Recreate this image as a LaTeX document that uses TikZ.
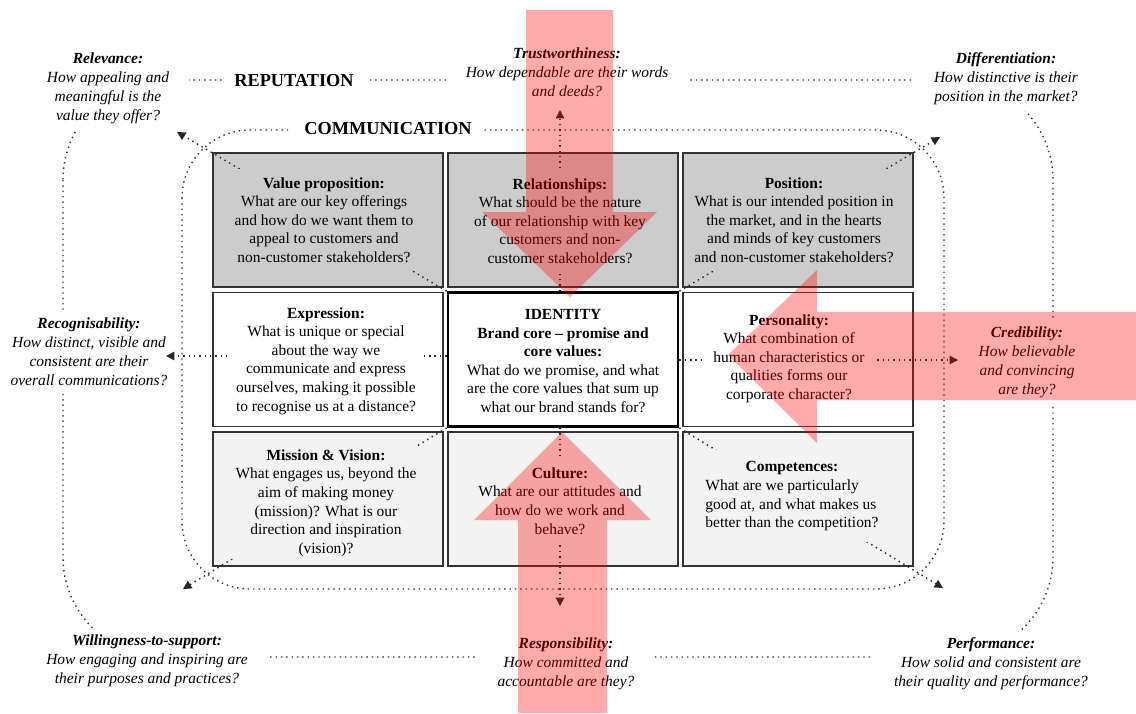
\documentclass[tikz,border=0pt]{standalone}
\usepackage{fontspec}
\setmainfont{Liberation Serif}
\usetikzlibrary{arrows.meta}
\definecolor{rowA}{HTML}{CCCCCC}
\definecolor{rowC}{HTML}{F3F3F3}

\begin{document}
\begin{tikzpicture}[x=0.025cm, y=-0.025cm,
		ring/.style={black!80, line width=1pt, dash pattern=on 1pt off 2.8pt},
		ray/.style={black!85, line width=1pt, dash pattern=on 1pt off 2.8pt, -{Triangle[length=6pt,width=6pt]}},
		cell/.style={draw=black!80, line width=0.9pt, minimum width=5.75cm, minimum height=3.35cm, inner sep=0pt},
		celltext/.style={align=center, inner sep=6pt, font=\fontsize{11}{13.2}\selectfont},
		outlabel/.style={align=center, fill=white, inner xsep=14pt, inner ysep=4pt, font=\fontsize{11}{13.5}\selectfont\itshape},
		ringname/.style={fill=white, inner xsep=9pt, inner ysep=2pt, font=\fontsize{13}{15}\selectfont\bfseries},
		bigarrow/.style={fill=red, opacity=0.33}]
		\useasboundingbox (0,0) rectangle (1136,713);
		
		% reputation ring and its questions
		\draw[ring, rounded corners=2.5cm] (63,80) rectangle (1053,657);
		\node[outlabel] (relevance) at (108,88) {\textbf{Relevance:}\\How appealing and\\meaningful is the\\value they offer?};
		\node[outlabel] (trust) at (567,72) {\textbf{Trustworthiness:}\\How dependable are their words\\and deeds?};
		\node[outlabel] (differ) at (1006,79) {\textbf{Differentiation:}\\How distinctive is their\\position in the market?};
		\node[outlabel] (recog) at (89,352) {\textbf{Recognisability:}\\How distinct, visible and\\consistent are their\\overall communications?};
		\node[outlabel] (cred) at (1027,362) {\textbf{Credibility:}\\How believable\\and convincing\\are they?};
		\node[outlabel] (willing) at (147,661) {\textbf{Willingness-to-support:}\\How engaging and inspiring are\\their purposes and practices?};
		\node[outlabel] (respons) at (566,664) {\textbf{Responsibility:}\\How committed and\\accountable are they?};
		\node[outlabel] (perform) at (991,664) {\textbf{Performance:}\\How solid and consistent are\\their quality and performance?};
		\node[ringname] (reputation) at (294,81) {REPUTATION};
		
		% communication ring
		\draw[ring, rounded corners=1.7cm] (182,130) rectangle (944,589);
		\node[ringname] (communication) at (388,129) {COMMUNICATION};
		
		% the nine cells
		\node[cell, fill=rowA] (c11) at (328,220) {};
		\node[cell, fill=rowA] (c12) at (563,220) {};
		\node[cell, fill=rowA] (c13) at (798,220) {};
		\node[cell, fill=white] (c21) at (328,359.5) {};
		\node[cell, fill=white, draw=black, line width=2pt] (c22) at (563,359.5) {};
		\node[cell, fill=white] (c23) at (798,359.5) {};
		\node[cell, fill=rowC] (c31) at (328,499) {};
		\node[cell, fill=rowC] (c32) at (563,499) {};
		\node[cell, fill=rowC] (c33) at (798,499) {};
		
		% rays from the identity
		\coordinate (up-end) at (560,110);
		\coordinate (down-end) at (560,606);
		\coordinate (left-end) at (166,356);
		\coordinate (right-end) at (958,360);
		\coordinate (nw-end) at (177,132);
		\coordinate (ne-end) at (940,137);
		\coordinate (sw-end) at (183,589);
		\coordinate (se-end) at (943,588);
		\draw[ray] (c22.north -| up-end) -- (up-end);
		\draw[ray] (c22.south -| down-end) -- (down-end);
		\draw[ray] (c22.west |- left-end) -- (left-end);
		\draw[ray] (c22.east |- right-end) -- (right-end);
		\draw[ray] (c22.north west) -- (nw-end);
		\draw[ray] (c22.north east) -- (ne-end);
		\draw[ray] (c22.south west) -- (sw-end);
		\draw[ray] (c22.south east) -- (se-end);
		
		% cell texts
		\node[celltext, fill=rowA] (valueprop) at (324,220) {\textbf{Value proposition:}\\What are our key offerings\\and how do we want them to\\appeal to customers and\\non-customer stakeholders?};
		\node[celltext, fill=rowA] (relations) at (560,221) {\textbf{Relationships:}\\What should be the nature\\of our relationship with key\\customers and non-\\customer stakeholders?};
		\node[celltext, fill=rowA] (position) at (794,220) {\textbf{Position:}\\What is our intended position in\\the market, and in the hearts\\and minds of key customers\\and non-customer stakeholders?};
		\node[celltext, fill=white] (expression) at (326,361) {\textbf{Expression:}\\What is unique or special\\about the way we\\communicate and express\\ourselves, making it possible\\to recognise us at a distance?};
		\node[celltext] (identity) at (563,361) {\textbf{IDENTITY}\\\textbf{Brand core -- promise and}\\\textbf{core values:}\\What do we promise, and what\\are the core values that sum up\\what our brand stands for?};
		\node[celltext, fill=white] (personality) at (789,358.5) {\textbf{Personality:}\\What combination of\\human characteristics or\\qualities forms our\\corporate character?};
		\node[celltext, fill=rowC, inner ysep=2pt] (mission) at (326,503) {\textbf{Mission \& Vision:}\\What engages us, beyond the\\aim of making money\\(mission)? What is our\\direction and inspiration\\(vision)?};
		\node[celltext, fill=rowC] (culture) at (560,501) {\textbf{Culture:}\\What are our attitudes and\\how do we work and\\behave?};
		\node[celltext, fill=rowC] (competences) at (792,496) {\begin{tabular}{@{}l@{}}\multicolumn{1}{@{}c@{}}{\textbf{Competences:}}\\What are we particularly\\good at, and what makes us\\better than the competition?\end{tabular}};
		
		% the three big arrows
		\fill[bigarrow] (526,10) -- (613,10) -- (613,212) -- (657,212) -- (570,297) -- (482,212) -- (526,212) -- cycle;
		\fill[bigarrow] (518,713) -- (518,520) -- (474,520) -- (562,432) -- (651,520) -- (607,520) -- (607,713) -- cycle;
		\fill[bigarrow] (1136,312) -- (817,312) -- (817,270) -- (728,355) -- (817,443) -- (817,400) -- (1136,400) -- cycle;
	\end{tikzpicture}
\end{document}
